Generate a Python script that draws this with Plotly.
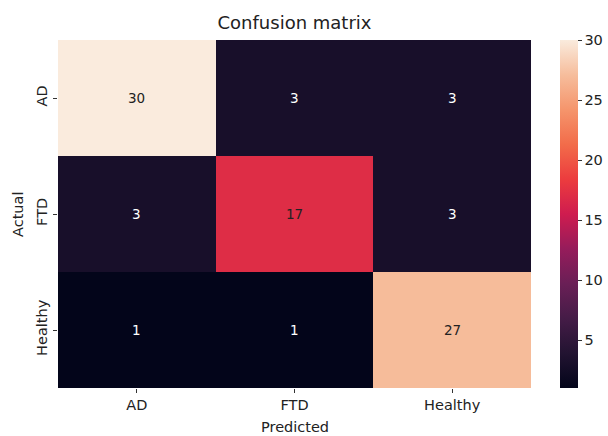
import plotly.graph_objects as go

labels = ["AD", "FTD", "Healthy"]
matrix = [[30, 3, 3],
          [3, 17, 3],
          [1, 1, 27]]
cbar_ticks = [5, 10, 15, 20, 25, 30]

rocket = [
    [0.0, "#03051a"], [0.1, "#221331"], [0.2, "#451c47"], [0.3, "#6a1f56"],
    [0.4, "#961c5b"], [0.5, "#cf1c4f"], [0.6, "#ec3c3e"], [0.7, "#f26c4a"],
    [0.8, "#f5956c"], [0.9, "#f6bd9c"], [1.0, "#faebdd"],
]

zmin = min(min(r) for r in matrix)
zmax = max(max(r) for r in matrix)

fig = go.Figure(go.Heatmap(
    z=matrix, x=labels, y=labels,
    colorscale=rocket, zmin=zmin, zmax=zmax,
    xgap=0, ygap=0,
    colorbar=dict(
        thickness=18, len=1, lenmode="fraction", y=0.5, yanchor="middle",
        x=1.061, xanchor="left", xpad=0, ypad=0,
        outlinewidth=0, tickvals=cbar_ticks, ticks="outside", ticklen=4,
        tickcolor="#333", tickfont=dict(size=14.5, color="#222"),
    ),
))

annotations = []
mid = (zmin + zmax) / 2
for i, row in enumerate(matrix):
    for j, v in enumerate(row):
        annotations.append(dict(
            x=labels[j], y=labels[i], text=str(v), showarrow=False,
            font=dict(size=13.5, color="#222" if v > mid else "white"),
        ))
annotations.append(dict(text="Predicted", xref="paper", yref="paper", x=0.5, y=-0.112,
                        xanchor="center", yanchor="middle", showarrow=False,
                        font=dict(size=14.5, color="#222")))
annotations.append(dict(text="Actual", xref="paper", yref="paper", x=-0.0846, y=0.5,
                        xanchor="center", yanchor="middle", textangle=-90, showarrow=False,
                        font=dict(size=14.5, color="#222")))

fig.update_layout(
    width=608, height=436,
    margin=dict(l=58, r=77, t=40, b=48, autoexpand=False),
    paper_bgcolor="white", plot_bgcolor="white",
    font=dict(family="DejaVu Sans", size=14.5, color="#222"),
    title=dict(text="Confusion matrix", x=0.5, xref="paper", xanchor="center",
               y=0.947, yref="container", yanchor="middle",
               font=dict(size=18, color="#222")),
    annotations=annotations,
    xaxis=dict(tickfont=dict(size=14.5), ticks="outside", ticklen=4,
               tickcolor="#333", showgrid=False, zeroline=False, showline=False,
               automargin=False),
    yaxis=dict(tickfont=dict(size=14.5), ticks="outside", ticklen=4,
               tickcolor="#333", autorange="reversed", tickangle=-90,
               showgrid=False, zeroline=False, showline=False,
               automargin=False),
)

fig.write_html("out.html", config={"displayModeBar": False},
               post_script="document.body.style.margin='0';document.body.style.overflow='hidden';")
